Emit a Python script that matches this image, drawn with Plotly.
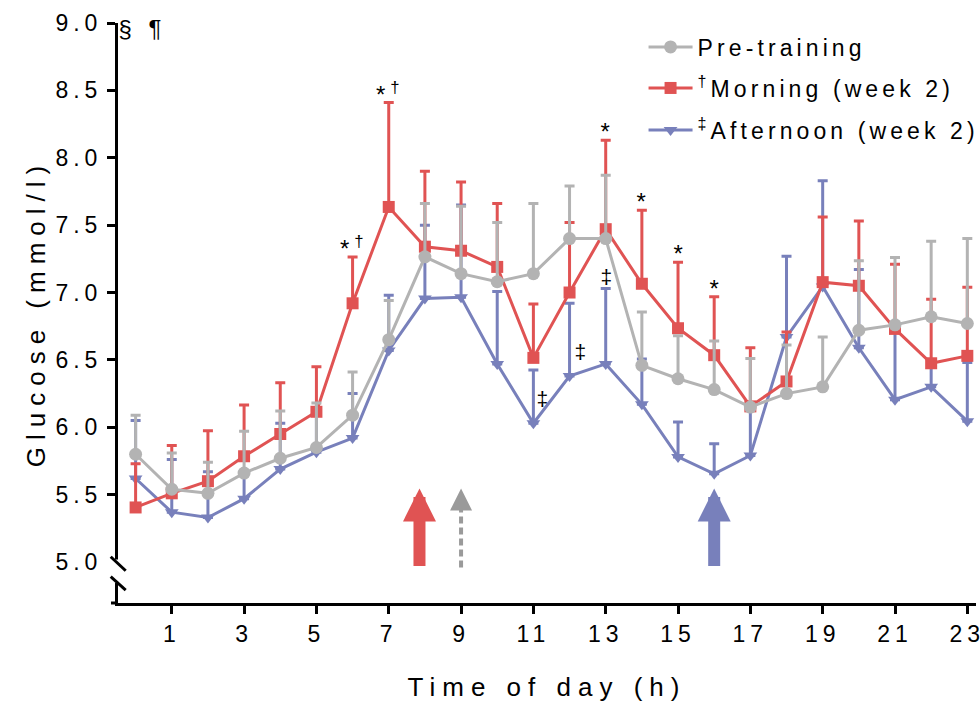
import plotly.graph_objects as go

# ---------------- data ----------------
hours = list(range(24))

pre_mean = [5.80, 5.54, 5.51, 5.66, 5.77, 5.85, 6.09, 6.65, 7.265, 7.14, 7.08, 7.14,
            7.40, 7.40, 6.46, 6.36, 6.28, 6.15, 6.25, 6.30, 6.72, 6.76, 6.82, 6.77]
pre_err = [0.29, 0.27, 0.23, 0.31, 0.35, 0.33, 0.32, 0.29, 0.395, 0.50, 0.44, 0.52,
           0.39, 0.47, 0.395, 0.32, 0.36, 0.36, 0.36, 0.37, 0.515, 0.50, 0.56, 0.63]

morning_mean = [5.405, 5.51, 5.60, 5.785, 5.95, 6.115, 6.92, 7.635, 7.34, 7.31, 7.19, 6.515,
                7.00, 7.47, 7.065, 6.735, 6.535, 6.155, 6.34, 7.077, 7.05, 6.73, 6.475, 6.53]
morning_err = [0.325, 0.355, 0.375, 0.38, 0.38, 0.335, 0.344, 0.775, 0.56, 0.51, 0.47, 0.40,
               0.52, 0.66, 0.545, 0.49, 0.433, 0.435, 0.367, 0.483, 0.48, 0.48, 0.475, 0.51]

afternoon_mean = [5.62, 5.37, 5.33, 5.47, 5.69, 5.815, 5.92, 6.57, 6.955, 6.965, 6.47, 6.03,
                  6.38, 6.47, 6.17, 5.78, 5.655, 5.79, 6.67, 7.045, 6.59, 6.205, 6.30, 6.045]
afternoon_err = [0.43, 0.39, 0.34, 0.18, 0.34, 0.29, 0.33, 0.41, 0.545, 0.685, 0.537, 0.395,
                 0.54, 0.56, 0.337, 0.26, 0.222, 0.36, 0.60, 0.785, 0.58, 0.515, 0.17, 0.435]

x_ticks = [1, 3, 5, 7, 9, 11, 13, 15, 17, 19, 21, 23]
y_ticks = [5.0, 5.5, 6.0, 6.5, 7.0, 7.5, 8.0, 8.5, 9.0]

names = ["Pre-training", "<sup>†</sup>Morning (week 2)", "<sup>‡</sup>Afternoon (week 2)"]

# significance marks above the morning error bars
star_hours = [6, 7, 13, 14, 15, 16]
star_labels = ["*<sup>†</sup>", "*<sup>†</sup>", "*", "*", "*", "*"]
# afternoon marks
ddag_x = [11.24, 12.28, 13.0]
ddag_y = [6.21, 6.56, 7.12]

# meal / exercise arrows
arrow_x = [7.85, 9.0, 16.0]
arrow_tip = 5.546
arrow_tail = 4.96
grey_head_base = 5.39

# ---------------- style ----------------
GREY = "#b3b3b3"
RED = "#e05353"
BLUE = "#7880bb"
ARROW_GREY = "#9a9a9a"
FONT = "Liberation Sans, Arial, sans-serif"

X_RANGE = [-0.487, 23.24]
Y_RANGE = [4.696, 9.0]

fig = go.Figure()


def add_series(y, err, color, symbol, size, name, legend):
    fig.add_trace(go.Scatter(
        x=hours, y=y, mode="lines+markers", name=name, legend=legend,
        line=dict(color=color, width=3),
        marker=dict(color=color, symbol=symbol, size=size),
        error_y=dict(type="data", symmetric=False, array=err,
                     arrayminus=[0] * len(err), color=color, thickness=3, width=5),
    ))


# draw order: afternoon at the back, pre-training on top
add_series(afternoon_mean, afternoon_err, BLUE, "triangle-down", 12, names[2], "legend3")
add_series(morning_mean, morning_err, RED, "square", 12, names[1], "legend2")
add_series(pre_mean, pre_err, GREY, "circle", 13, names[0], "legend")

annotations = []
for h, lab in zip(star_hours, star_labels):
    annotations.append(dict(
        x=h, y=morning_mean[h] + morning_err[h], xref="x", yref="y",
        text=lab, showarrow=False, yanchor="bottom", xanchor="center",
        yshift=-7, xshift=2, font=dict(family=FONT, size=24, color="black")))
for xx, yy in zip(ddag_x, ddag_y):
    annotations.append(dict(
        x=xx, y=yy, xref="x", yref="y", text="‡", showarrow=False, xshift=3,
        font=dict(family=FONT, size=21, color="black")))

arrow_colors = [RED, ARROW_GREY, BLUE]
arrow_widths = [12, 4, 12]
arrow_sizes = [0.55, 1.1, 0.55]
for i, (ax_, col, w, s) in enumerate(zip(arrow_x, arrow_colors, arrow_widths, arrow_sizes)):
    tail = arrow_tail if i != 1 else grey_head_base
    annotations.append(dict(
        x=ax_, y=arrow_tip, ax=ax_, ay=tail, xref="x", yref="y", axref="x", ayref="y",
        text="", showarrow=True, arrowhead=2, arrowsize=s, arrowwidth=w,
        arrowcolor=col, standoff=0, startstandoff=0))

# section marks at the top of the y axis
annotations.append(dict(
    x=0.007, y=0.99, xref="paper", yref="paper", text="§ ¶", showarrow=False,
    xanchor="left", yanchor="middle", font=dict(family=FONT, size=24, color="black")))

# y-axis break at 5.0
y5 = (5.0 - Y_RANGE[0]) / (Y_RANGE[1] - Y_RANGE[0])
shapes = [
    dict(type="rect", xref="paper", yref="paper", xsizemode="pixel", ysizemode="pixel",
         xanchor=0, yanchor=y5, x0=-11, x1=3, y0=2.5, y1=-21,
         fillcolor="white", line=dict(width=0), layer="above"),
    dict(type="line", xref="paper", yref="paper", xsizemode="pixel", ysizemode="pixel",
         xanchor=0, yanchor=y5, x0=-7.3, x1=7.7, y0=5.3, y1=-8.7,
         line=dict(color="black", width=3), layer="above"),
    dict(type="line", xref="paper", yref="paper", xsizemode="pixel", ysizemode="pixel",
         xanchor=0, yanchor=y5, x0=-7.3, x1=7.7, y0=-14.7, y1=-28,
         line=dict(color="black", width=3), layer="above"),
    # x axis line overshoots slightly left of the y axis
    dict(type="line", xref="paper", yref="paper", xsizemode="pixel", ysizemode="pixel",
         xanchor=0, yanchor=0, x0=-7, x1=0, y0=0, y1=0,
         line=dict(color="black", width=3), layer="above"),
    # dashed shaft of the grey arrow
    dict(type="line", xref="x", yref="y", x0=arrow_x[1], x1=arrow_x[1],
         y0=arrow_tail, y1=grey_head_base,
         line=dict(color=ARROW_GREY, width=4, dash="7px,4px")),
]

legend_common = dict(xanchor="left", yanchor="middle", bgcolor="rgba(0,0,0,0)",
                     borderwidth=0, itemwidth=44,
                     font=dict(family=FONT, size=23, color="black"))
lx = (646 - 118) / 862

fig.update_layout(
    width=980, height=702,
    margin=dict(l=118, r=0, t=23, b=99),
    paper_bgcolor="white", plot_bgcolor="white",
    font=dict(family=FONT, color="black"),
    showlegend=True,
    legend=dict(x=lx, y=(603 - 47) / 580, **legend_common),
    legend2=dict(x=lx, y=(603 - 88) / 580, **legend_common),
    legend3=dict(x=lx, y=(603 - 130) / 580, **legend_common),
    xaxis=dict(range=X_RANGE, tickvals=x_ticks, ticks="outside", ticklen=8, tickwidth=3,
               tickcolor="black", showline=True, linewidth=3, linecolor="black",
               showgrid=False, zeroline=False, ticklabeloverflow="allow",
               tickfont=dict(family=FONT, size=23, color="black"),
               title=dict(text="Time of day (h)", standoff=33,
                          font=dict(family=FONT, size=26, color="black"))),
    yaxis=dict(range=Y_RANGE, tickvals=y_ticks, tickformat=".1f", ticks="outside",
               ticklen=8, tickwidth=3, tickcolor="black", showline=True, linewidth=3,
               linecolor="black", showgrid=False, zeroline=False,
               tickfont=dict(family=FONT, size=23, color="black"),
               title=dict(text="Glucose (mmol/l)", standoff=18,
                          font=dict(family=FONT, size=26, color="black"))),
    annotations=annotations,
    shapes=shapes,
)

css_js = (
    "var s=document.createElement('style');"
    "s.textContent='.xtitle,.ytitle{letter-spacing:7px;}"
    " .xtick text,.ytick text{letter-spacing:5px;}"
    " g[class^=\"legend\"] text, g[class^=\"legend\"] tspan, text.legendtext, text.legendtext tspan"
    "{letter-spacing:4.1px !important;}"
    " g.scrollbox{clip-path:none !important;}"
    " .annotation-text{letter-spacing:5px;}';"
    "document.head.appendChild(s);"
    "document.querySelectorAll('g[class^=\"legend\"] text').forEach(function(t){"
    "t.style.letterSpacing='4.1px';t.setAttribute('letter-spacing','4.1');"
    "t.querySelectorAll('tspan').forEach(function(u){u.style.letterSpacing='4.1px';});});"
    "document.querySelectorAll('g.scrollbox').forEach(function(g){g.removeAttribute('clip-path');});"
)

fig.write_html("out.html", post_script=css_js)
